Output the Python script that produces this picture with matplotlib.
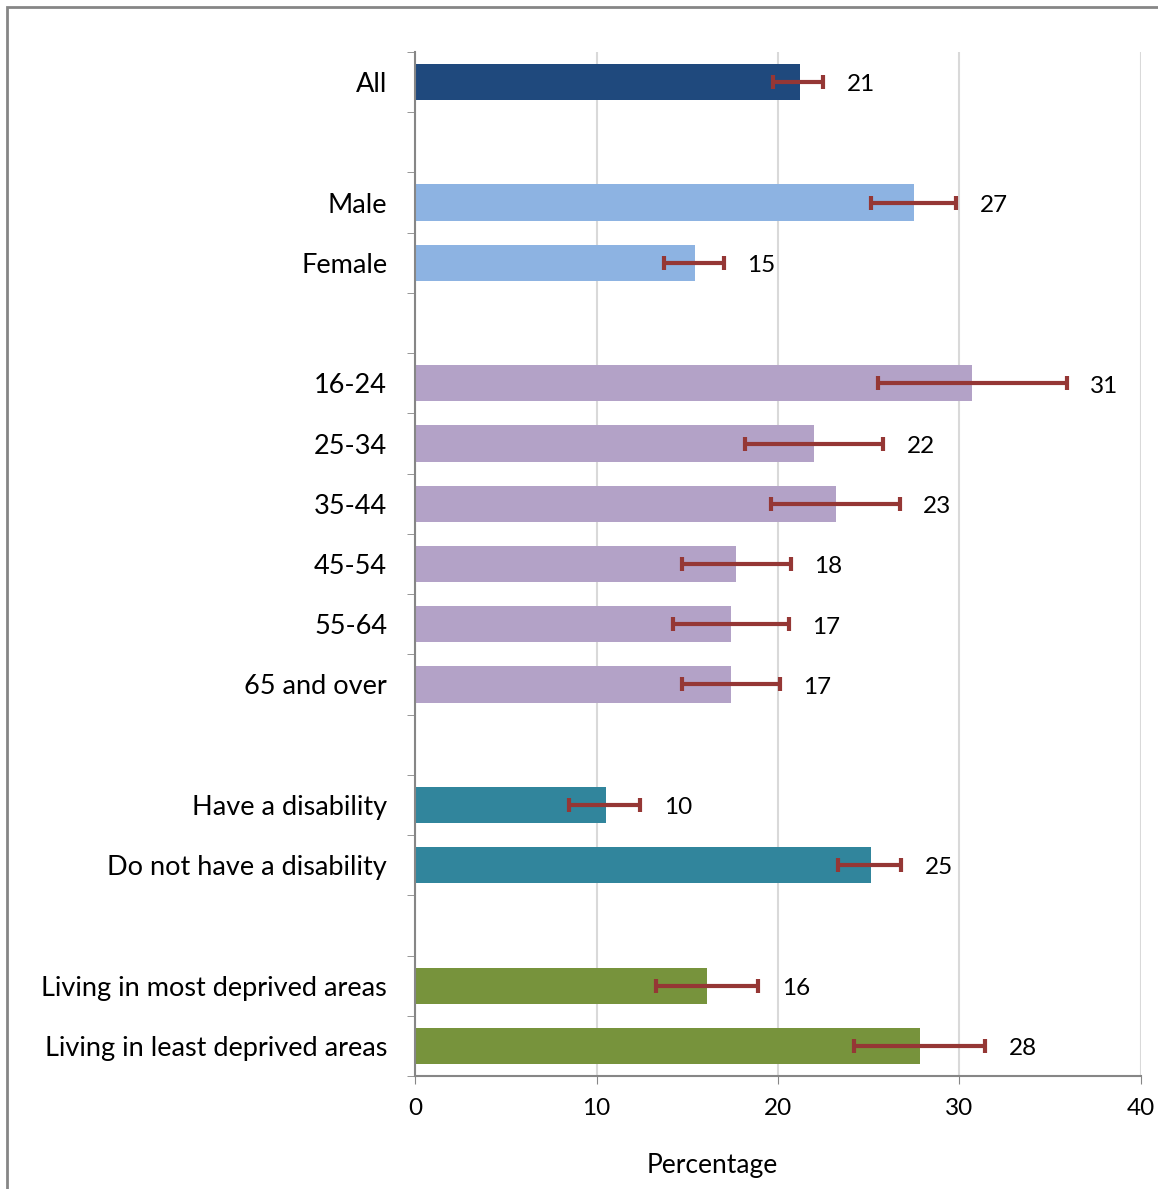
import numpy as np
import matplotlib.pyplot as plt
from matplotlib.patches import Rectangle

plt.rcParams['font.family'] = ['Lato', 'DejaVu Sans']

# categories in display order (None = blank spacer slot)
labels = ['All', None, 'Male', 'Female', None,
          '16-24', '25-34', '35-44', '45-54', '55-64', '65 and over', None,
          'Have a disability', 'Do not have a disability', None,
          'Living in most deprived areas', 'Living in least deprived areas']
values = [21.2, None, 27.5, 15.4, None,
          30.7, 22.0, 23.2, 17.7, 17.4, 17.4, None,
          10.5, 25.1, None,
          16.1, 27.8]
err_low = [19.7, None, 25.1, 13.7, None,
           25.5, 18.2, 19.6, 14.7, 14.2, 14.7, None,
           8.5, 23.3, None,
           13.3, 24.2]
err_high = [22.5, None, 29.8, 17.0, None,
            35.9, 25.8, 26.7, 20.7, 20.6, 20.1, None,
            12.4, 26.8, None,
            18.9, 31.4]
shown = [21, None, 27, 15, None, 31, 22, 23, 18, 17, 17, None, 10, 25, None, 16, 28]
groups = ['all', None, 'sex', 'sex', None,
          'age', 'age', 'age', 'age', 'age', 'age', None,
          'dis', 'dis', None, 'dep', 'dep']
colours = {'all': '#1F497D', 'sex': '#8DB3E2', 'age': '#B3A2C7',
           'dis': '#31859C', 'dep': '#77933C'}

fig = plt.figure(figsize=(11.58, 11.89), dpi=100)
ax = fig.add_axes([0.3584, 0.0950, 0.6269, 0.8613])

n = len(labels)
for i in range(n):
    if values[i] is None:
        continue
    ax.barh(i, values[i], height=0.6, color=colours[groups[i]], zorder=2)
    mid = (err_low[i] + err_high[i]) / 2
    ax.errorbar(mid, i, xerr=(err_high[i] - err_low[i]) / 2, fmt='none',
                ecolor='#953735', elinewidth=3, capsize=5, capthick=3, zorder=3)
    ax.annotate(str(shown[i]), (err_high[i], i), xytext=(17, -2),
                textcoords='offset points', ha='left', va='center', fontsize=17.5)

ax.set_xlim(0, 40)
ax.set_ylim(n - 0.5, -0.5)
ax.set_xticks([0, 10, 20, 30, 40])
ax.tick_params(axis='x', labelsize=17.5, length=6, color='#868686', pad=10)
ax.xaxis.grid(True, color='#D9D9D9', linewidth=1.5)
ax.set_axisbelow(True)

centres = [i for i in range(n) if labels[i] is not None]
ax.set_yticks(centres)
ax.set_yticklabels([labels[i] for i in centres])
ax.set_yticks(np.arange(-0.5, n, 1.0), minor=True)
ax.tick_params(axis='y', which='major', length=0, labelsize=19.5, pad=20)
ax.tick_params(axis='y', which='minor', length=6, color='#868686')

for s in ['top', 'right']:
    ax.spines[s].set_visible(False)
for s in ['left', 'bottom']:
    ax.spines[s].set_color('#868686')
    ax.spines[s].set_linewidth(1.5)

ax.set_xlabel('Percentage', fontsize=19, labelpad=22)
ax.xaxis.set_label_coords(0.409, -0.075)

fig.patches.append(Rectangle((7 / 1158, -0.1), 1.2, 1 - 7 / 1189 + 0.1,
                             transform=fig.transFigure, fill=False,
                             edgecolor='#868686', linewidth=2))

fig.savefig('out.png', dpi=100)
